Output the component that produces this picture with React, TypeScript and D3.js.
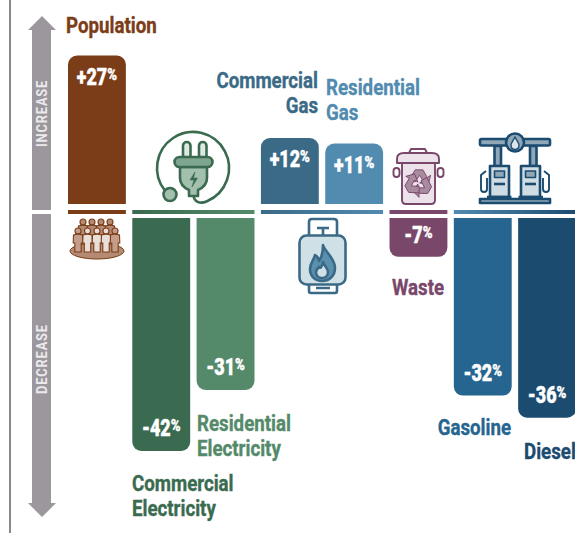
import React from 'react';
import * as d3 from 'd3';

// change in emissions by sector
const categories = ['Population', 'Commercial Electricity', 'Residential Electricity', 'Commercial Gas', 'Residential Gas', 'Waste', 'Gasoline', 'Diesel'];
const values = [27, -42, -31, 12, 11, -7, -32, -36];
const valueLabels = ['+27', '-42', '-31', '+12', '+11', '-7', '-32', '-36'];
const barColors = ['#7b3c18', '#3a6b50', '#548a69', '#3b6a87', '#528bb0', '#79476a', '#26658f', '#1c4b70'];

// no condensed face is installed, so Roboto gets squeezed horizontally
const FONT = 'Roboto, sans-serif';
const WIDTH = 575;
const HEIGHT = 533;
const UP_BASE = 204;
const DOWN_BASE = 218;
const STRIP_Y = 210;

const x = d3.scaleBand<string>().domain(categories).range([68, 576]).paddingInner(0.1);
const magUp = d3.scaleLinear().domain([0, 27]).range([0, 148.5]);
const magDown = d3.scaleLinear().domain([0, 42]).range([0, 233]);

const barPath = (x0: number, w: number, v: number) => {
  const r = 9;
  const p = d3.path();
  if (v > 0) {
    const top = UP_BASE - magUp(v);
    p.moveTo(x0, UP_BASE);
    p.lineTo(x0, top + r);
    p.arcTo(x0, top, x0 + r, top, r);
    p.lineTo(x0 + w - r, top);
    p.arcTo(x0 + w, top, x0 + w, top + r, r);
    p.lineTo(x0 + w, UP_BASE);
  } else {
    const bottom = DOWN_BASE + magDown(-v);
    p.moveTo(x0, DOWN_BASE);
    p.lineTo(x0, bottom - r);
    p.arcTo(x0, bottom, x0 + r, bottom, r);
    p.lineTo(x0 + w - r, bottom);
    p.arcTo(x0 + w, bottom, x0 + w, bottom - r, r);
    p.lineTo(x0 + w, DOWN_BASE);
  }
  p.closePath();
  return p.toString();
};

const Label = ({ x, y, color, anchor = 'start', lines }: any) => (
  <text transform={`translate(${x},${y}) scale(0.85,1)`} fill={color} stroke={color} strokeWidth={0.35} textAnchor={anchor} fontFamily={FONT} fontWeight={700} fontSize={22}>
    {lines.map((l: string, i: number) => (
      <tspan key={l} x={0} dy={i === 0 ? 0 : 25.5}>{l}</tspan>
    ))}
  </text>
);

const Person = ({ x, y, body, stroke }: any) => (
  <g transform={`translate(${x},${y})`} fill={body} stroke={stroke} strokeWidth={1.1}>
    <circle cx={0} cy={0} r={3} />
    <path d="M-4.5,4 Q0,2.2 4.5,4 L4.8,12 L3.2,12 L3.2,21 L-3.2,21 L-3.2,12 L-4.8,12 Z" />
  </g>
);

const PopulationIcon = () => (
  <g>
    <ellipse cx={97} cy={251} rx={27} ry={8} fill="#b58a73" stroke="#7b3c18" strokeWidth={1} />
    {[83, 92, 101, 110].map(px => <Person key={px} x={px} y={222} body="#b58a73" stroke="#7b3c18" />)}
    {[78, 87.5, 97, 106, 115].map(px => <Person key={px} x={px} y={231} body={px === 78 || px === 115 ? '#c49e8a' : '#e9dfd9'} stroke="#7b3c18" />)}
  </g>
);

const PlugIcon = () => {
  const c = '#3a6b50';
  return (
    <g stroke={c} strokeWidth={2.6} strokeLinejoin="round" fill="none">
      <path d="M165,190.6 A36,36 0 1 1 207,201.2 C201,204 195,203 193.5,196" />
      <circle cx={170} cy={194.5} r={6.5} fill="#a3c0ae" />
      <rect x={183} y={142} width={7.5} height={17} rx={3.7} fill="#dfe9e3" />
      <rect x={199} y={142} width={7.5} height={17} rx={3.7} fill="#dfe9e3" />
      <path d="M180,167 L207,167 L207,178 Q207,186 198,190 L198,196 L189,196 L189,190 Q180,186 180,178 Z" fill="#a3c0ae" />
      <rect x={174.5} y={157} width={38} height={10} rx={5} fill="#7ea58e" />
      <path d="M195,172 L190,180 L194,180 L192,187 L197.5,178 L193.5,178 Z" fill={c} strokeWidth={0.6} />
    </g>
  );
};

const TankIcon = () => {
  const c = '#3b6a87';
  return (
    <g stroke={c} strokeWidth={2.6} strokeLinejoin="round" fill="none">
      <path d="M309,236 L309,222 Q309,219 312,219 L334,219 Q337,219 337,222 L337,236" />
      <path d="M317,228 L329,228 M323,228 L323,235" />
      <path d="M309,284 L309,291 Q309,293 311,293 L335,293 Q337,293 337,291 L337,284 M316,288 L330,288" />
      <rect x={299.5} y={235.5} width={46} height={49} rx={7} fill="#d0e0e7" />
      <path d="M323,245 C325,252 335,258 335,268 C335,276 329,281 322,281 C315,281 310,276 310,269 C310,263 314,260 315,255 C318,257 319,259 319,261 C322,257 323,251 323,245 Z" fill="#5a8fae" />
      <path d="M323,262 C324,266 328,268 328,272 C328,276 325,278 322,278 C319,278 316,276 316,272 C316,270 318,268 319,267 C320,268 321,268 321,267 C322,266 323,264 323,262 Z" fill="#d0e0e7" />
    </g>
  );
};

const BinIcon = () => {
  const c = '#79476a';
  const arrow = 'M-3,-12 L4,-12 L8,-5 L11,-7 L9,1 L1,0 L4,-2 L1,-7 L-3,-1 L-8,-4 Z';
  return (
    <g stroke={c} strokeWidth={1.9} strokeLinejoin="round" fill="none">
      <path d="M409,153 L411,149 L425,149 L427,153" />
      <rect x={393.5} y={168} width={6} height={9} rx={3} />
      <rect x={437.5} y={168} width={6} height={9} rx={3} />
      <path d="M402,163 L435,163 L435,200 Q435,204 431,204 L406,204 Q402,204 402,200 Z" fill="#ece2e9" />
      <path d="M397,163 L397,159 Q397,153 404,153 L432,153 Q439,153 439,159 L439,163 Z" fill="#ece2e9" />
      <g transform="translate(418.5,183) scale(1.1)" fill="#a98ba0" strokeWidth={0.8}>
        {[0, 120, 240].map(a => <path key={a} d={arrow} transform={`rotate(${a})`} />)}
      </g>
    </g>
  );
};

const Pump = ({ x }: any) => {
  const c = '#1c4b70';
  return (
    <g transform={`translate(${x},0)`} stroke={c} strokeWidth={2.6} strokeLinejoin="round" fill="none">
      <rect x={0} y={166} width={19} height={31} fill="#cfdce3" />
      <rect x={4.5} y={171} width={10} height={6.5} fill="#8fa7b7" strokeWidth={1.6} />
      <path d="M4,184 L15,184" />
    </g>
  );
};

const PumpIcon = () => {
  const c = '#1c4b70';
  return (
    <g stroke={c} strokeWidth={2.6} strokeLinejoin="round" fill="none">
      <rect x={494.5} y={146} width={6.5} height={20} fill="#8fa7b7" />
      <rect x={530} y={146} width={6.5} height={20} fill="#8fa7b7" />
      <rect x={480} y={139} width={70} height={6.5} fill="#8fa7b7" rx={1.5} />
      <circle cx={515} cy={142.5} r={9} fill="#8fa7b7" />
      <path d="M515,137 C517,141 519,143 519,145 C519,148 517,149.5 515,149.5 C513,149.5 511,148 511,145 C511,143 513,141 515,137 Z" fill="#dbe5ea" strokeWidth={1.4} />
      <Pump x={490} />
      <Pump x={521} />
      <path d="M486,171 L481,175 L481,189 Q481,192 484,192 Q487,192 487,189 L487,178" strokeWidth={1.9} />
      <path d="M544,171 L549,175 L549,189 Q549,192 546,192 Q543,192 543,189 L543,178" strokeWidth={1.9} />
      <path d="M487,197 L511.5,197 M518.5,197 L543,197" />
      <rect x={480} y={199} width={70} height={4} fill="#8fa7b7" />
    </g>
  );
};

export default function App() {
  const bw = x.bandwidth();
  const left = (c: string) => x(c) as number;
  const right = (c: string) => left(c) + bw;
  const strips = [
    { id: 'pop', from: categories[0], to: categories[0], c0: barColors[0], c1: barColors[0] },
    { id: 'elec', from: categories[1], to: categories[2], c0: barColors[1], c1: barColors[2] },
    { id: 'gas', from: categories[3], to: categories[4], c0: barColors[3], c1: barColors[4] },
    { id: 'waste', from: categories[5], to: categories[5], c0: barColors[5], c1: barColors[5] },
    { id: 'fuel', from: categories[6], to: categories[7], c0: barColors[4], c1: barColors[7] },
  ];
  return (
    <svg width={WIDTH} height={HEIGHT} style={{ position: 'absolute', left: 0, top: 0 }}>
      <defs>
        {strips.map(s => (
          <linearGradient key={s.id} id={`strip-${s.id}`}>
            <stop offset="0%" stopColor={s.c0} />
            <stop offset="100%" stopColor={s.c1} />
          </linearGradient>
        ))}
      </defs>
      <rect x={9} y={0} width={2} height={HEIGHT} fill="#8a888b" />

      <path d="M42,16 L56,30 L51,30 L51,210 L32,210 L32,30 L28,30 Z" fill="#9b979d" />
      <path d="M32,214 L51,214 L51,503 L56,503 L42,517 L28,503 L32,503 Z" fill="#9b979d" />
      <text transform="translate(46.5,147) rotate(-90) scale(0.92,1)" fill="#ebe9ec" fontFamily={FONT} fontWeight={700} fontSize={14} letterSpacing={0.9}>INCREASE</text>
      <text transform="translate(46.5,394) rotate(-90) scale(0.92,1)" fill="#ebe9ec" fontFamily={FONT} fontWeight={700} fontSize={14} letterSpacing={0.9}>DECREASE</text>

      {categories.map((c, i) => (
        <path key={c} d={barPath(left(c), bw, values[i])} fill={barColors[i]} />
      ))}

      {strips.map(s => (
        <rect key={s.id} x={left(s.from)} y={STRIP_Y} width={right(s.to) - left(s.from)} height={4} fill={`url(#strip-${s.id})`} />
      ))}

      {categories.map((c, i) => {
        const v = values[i];
        const y = v > 0
          ? UP_BASE - magUp(v) + 29
          : Math.max(DOWN_BASE + magDown(-v) - 15, DOWN_BASE + 25);
        return (
          <text key={c} transform={`translate(${left(c) + bw / 2},${y}) scale(0.78,1)`} textAnchor="middle" fill="#fff" stroke="#fff" strokeWidth={0.4} fontFamily={FONT} fontWeight={900} fontSize={23}>
            {valueLabels[i]}
            <tspan fontSize={17} dy={-5}>%</tspan>
          </text>
        );
      })}

      <PopulationIcon />
      <PlugIcon />
      <TankIcon />
      <BinIcon />
      <PumpIcon />

      <Label x={66} y={33} color={barColors[0]} lines={['Population']} />
      <Label x={132} y={491} color={barColors[1]} lines={['Commercial', 'Electricity']} />
      <Label x={197} y={431} color={barColors[2]} lines={['Residential', 'Electricity']} />
      <Label x={318} y={88} anchor="end" color={barColors[3]} lines={['Commercial', 'Gas']} />
      <Label x={326} y={95} color={barColors[4]} lines={['Residential', 'Gas']} />
      <Label x={392} y={295} color={barColors[5]} lines={['Waste']} />
      <Label x={511} y={435} anchor="end" color={barColors[6]} lines={['Gasoline']} />
      <Label x={524} y={459} color={barColors[7]} lines={['Diesel']} />
    </svg>
  );
}
